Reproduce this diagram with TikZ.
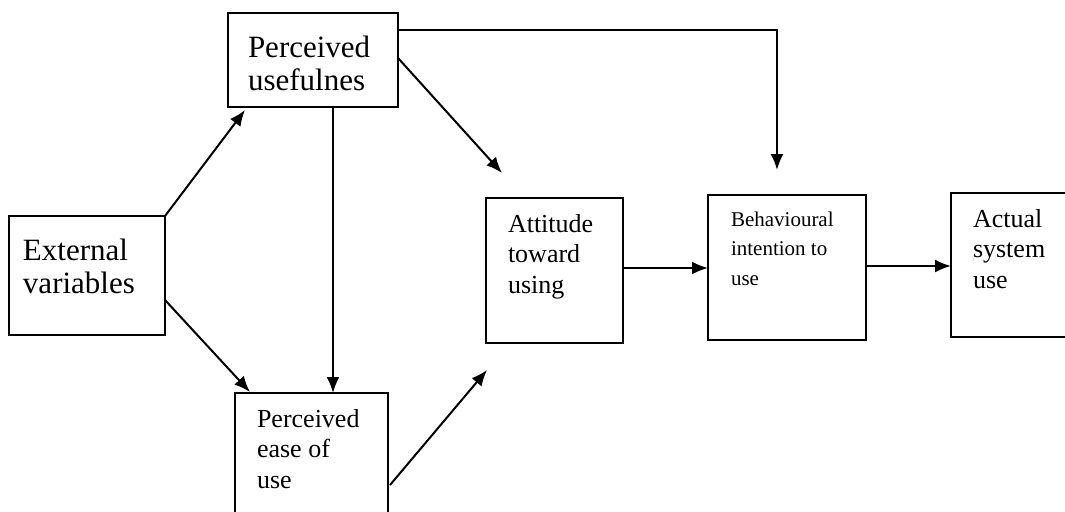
\documentclass[tikz,border=0pt]{standalone}
\usepackage{fontspec}
\setmainfont{Liberation Serif}
\usetikzlibrary{arrows.meta,calc}
\newcommand{\boxlines}[4]{\parbox[t][#1][t]{#2}{\raggedright\rule{0pt}{#3}#4}}
\tikzset{
  tambox/.style = {draw, line width=1pt, anchor=north west, inner ysep=0pt, outer sep=0pt},
  bigtext/.style = {font=\fontsize{15.5}{16.5}\selectfont},
  midtext/.style = {font=\fontsize{13}{15.4}\selectfont},
  smalltext/.style = {font=\fontsize{10.5}{14.8}\selectfont},
  tamarrow/.style = {line width=1pt, -{Latex[length=8pt, width=6.5pt]}}
}
\begin{document}
\begin{tikzpicture}[x = 0.5pt, y = -0.5pt]
\clip (0, 0) rectangle (1065, 511);

\node[tambox, bigtext, inner xsep = 7pt] at (9, 216) (ext)
  {\boxlines{59.5pt}{64pt}{22pt}{External\\variables}};
\node[tambox, bigtext, inner xsep = 10pt] at (228, 13) (pu)
  {\boxlines{47pt}{65pt}{22pt}{Perceived\\usefulnes}};
\node[tambox, midtext, inner xsep = 11pt] at (235, 393) (peu)
  {\boxlines{75pt}{54.5pt}{17pt}{Perceived\\ease of\\use}};
\node[tambox, midtext, inner xsep = 11pt] at (486, 198) (att)
  {\boxlines{72.5pt}{46.5pt}{17pt}{Attitude\\toward\\using}};
\node[tambox, smalltext, inner xsep = 11.5pt] at (708, 195) (beh)
  {\boxlines{72.5pt}{56pt}{15.5pt}{Behavioural\\intention to\\use}};
\node[tambox, midtext, inner xsep = 11pt] at (951, 193) (act)
  {\boxlines{72pt}{53pt}{17pt}{Actual\\system\\use}};

\draw[tamarrow] (ext.north east) -- ($(pu.south west) + (17, 3)$);
\draw[tamarrow] ($(ext.north east) + (0, 84)$) -- ($(peu.north west) + (15, -1)$);
\draw[tamarrow] ($(pu.south west) + (105, 0)$) -- ($(peu.north west) + (98, 0)$);
\draw[tamarrow] ($(pu.north east) + (0, 45)$) -- ($(att.north west) + (16, -25)$);
\draw[tamarrow] ($(pu.north east) + (0, 17)$) -| ($(beh.north west) + (69, -25)$);
\draw[tamarrow] ($(peu.north east) + (2, 92)$) -- ($(att.south west) + (1, 27)$);
\draw[tamarrow] ($(att.north east) + (0, 70)$) -- ($(beh.north west) + (0, 73)$);
\draw[tamarrow] ($(beh.north east) + (0, 71)$) -- ($(act.north west) + (0, 73)$);

\end{tikzpicture}
\end{document}
